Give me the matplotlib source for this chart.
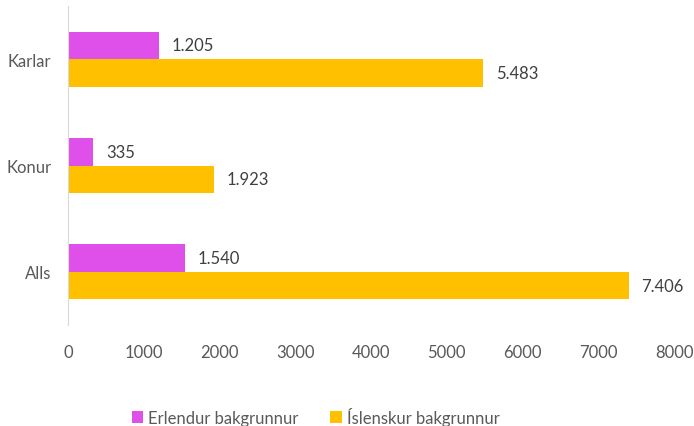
import matplotlib
matplotlib.use("Agg")
import matplotlib.pyplot as plt
import numpy as np

categories = ["Alls", "Konur", "Karlar"]
erlendur = [1540, 335, 1205]
islenskur = [7406, 1923, 5483]
series_names = ["Erlendur bakgrunnur", "Íslenskur bakgrunnur"]
xticks = [0, 1000, 2000, 3000, 4000, 5000, 6000, 7000, 8000]

COLOR_ERL = "#DF4FEA"
COLOR_ISL = "#FFC000"
TEXT_COLOR = "#595959"
LABEL_COLOR = "#404040"

plt.rcParams["font.family"] = ["Lato", "DejaVu Sans"]


def fmt_is(v):
    return f"{v:,}".replace(",", ".")


fig = plt.figure(figsize=(6.94, 4.27), dpi=100)
ax = fig.add_axes([68 / 694, 101 / 427, 606 / 694, 319 / 427])

y = np.arange(len(categories))
h = 0.26
b1 = ax.barh(y + h / 2, erlendur, height=h, color=COLOR_ERL, label=series_names[0])
b2 = ax.barh(y - h / 2, islenskur, height=h, color=COLOR_ISL, label=series_names[1])

for bars, vals in ((b1, erlendur), (b2, islenskur)):
    for bar, v in zip(bars, vals):
        ax.annotate(fmt_is(v), (bar.get_width(), bar.get_y() + bar.get_height() / 2),
                    xytext=(9, 0), textcoords="offset points", va="center", ha="left",
                    fontsize=12, color=LABEL_COLOR)

ax.set_xlim(0, 8000)
ax.set_ylim(-0.5, 2.5)
ax.set_xticks(xticks)
ax.set_xticklabels([str(t) for t in xticks])
ax.set_yticks(y)
ax.set_yticklabels(categories)
ax.tick_params(axis="both", length=0, labelsize=12, colors=TEXT_COLOR)
ax.tick_params(axis="x", pad=14)
ax.tick_params(axis="y", pad=12)
for side in ("top", "right", "bottom"):
    ax.spines[side].set_visible(False)
ax.spines["left"].set_color("#D9D9D9")

fig.legend(handles=[b1, b2], loc="lower center", bbox_to_anchor=(0.455, -0.035), ncol=2,
           frameon=False, fontsize=12, labelcolor=TEXT_COLOR, handlelength=0.7,
           handleheight=0.7, handletextpad=0.3, columnspacing=1.9)

fig.savefig("out.png", dpi=100)
